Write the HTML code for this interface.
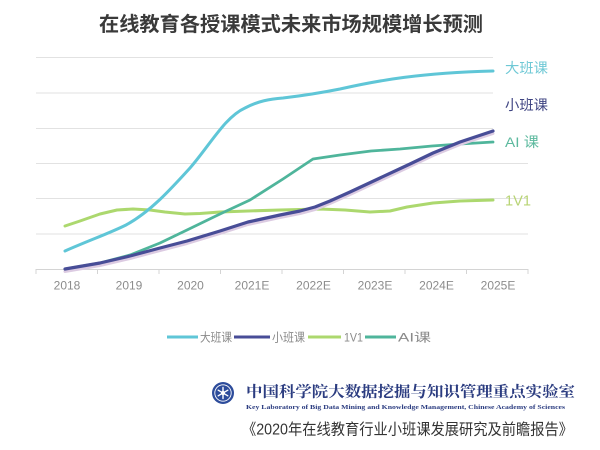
<!DOCTYPE html>
<html>
<head>
<meta charset="utf-8">
<style>
  html, body { margin:0; padding:0; background:#fff; }
  body { width:600px; height:450px; overflow:hidden; }
  svg { display:block; }
</style>
</head>
<body>
<svg width="600" height="450" viewBox="0 0 600 450" xmlns="http://www.w3.org/2000/svg">
  <rect width="600" height="450" fill="#ffffff"/>

  <!-- Title -->
  <text x="291" y="31" text-anchor="middle" font-size="20" font-weight="bold" fill="#3a3a3a" textLength="384" lengthAdjust="spacingAndGlyphs" style="font-family:'Liberation Sans','Noto Sans CJK SC',sans-serif">在线教育各授课模式未来市场规模增长预测</text>

  <!-- Grid lines -->
  <g stroke="#e2e2e2" stroke-width="1">
    <line x1="36" y1="57.5" x2="493" y2="57.5"/>
    <line x1="36" y1="93" x2="493" y2="93"/>
    <line x1="36" y1="128.5" x2="493" y2="128.5"/>
    <line x1="36" y1="163.5" x2="528" y2="163.5"/>
    <line x1="36" y1="198.5" x2="528" y2="198.5"/>
    <line x1="36" y1="234" x2="528" y2="234"/>
  </g>
  <!-- Axis -->
  <line x1="36" y1="269.5" x2="528" y2="269.5" stroke="#d4d4d4" stroke-width="1"/>
  <g stroke="#d4d4d4" stroke-width="1">
    <line x1="36" y1="269" x2="36" y2="274"/>
    <line x1="97.5" y1="269" x2="97.5" y2="274"/>
    <line x1="159" y1="269" x2="159" y2="274"/>
    <line x1="220.5" y1="269" x2="220.5" y2="274"/>
    <line x1="282" y1="269" x2="282" y2="274"/>
    <line x1="343.5" y1="269" x2="343.5" y2="274"/>
    <line x1="405" y1="269" x2="405" y2="274"/>
    <line x1="466.5" y1="269" x2="466.5" y2="274"/>
    <line x1="528" y1="269" x2="528" y2="274"/>
  </g>

  <!-- X labels -->
  <g font-family="Liberation Sans, sans-serif" font-size="12" fill="#8c8c8c" text-anchor="middle">
    <text x="67" y="289.5">2018</text>
    <text x="129" y="289.5">2019</text>
    <text x="190.5" y="289.5">2020</text>
    <text x="252" y="289.5">2021E</text>
    <text x="313.5" y="289.5">2022E</text>
    <text x="375" y="289.5">2023E</text>
    <text x="436.5" y="289.5">2024E</text>
    <text x="498" y="289.5">2025E</text>
  </g>

  <!-- Series -->
  <g fill="none" stroke-linejoin="round" stroke-linecap="round">
    <!-- 1V1 -->
    <polyline stroke="#acd86e" stroke-width="3" points="65,226 80,221 100,214 117,210 133,209 150,210 165,212 185,214 200,213.5 220,212 248,211 280,210 320,209 345,210 370,212 390,211 407,207 433,203 460,201 493,200"/>
    <!-- 大班课 -->
    <path stroke="#5fc6d7" stroke-width="3" d="M65,251 C90,240 110,233 126,225 C150,212 170,190 190,168 C210,145 225,117 245,108 C258,101 270,99 283,98 C300,96 320,93 340,89 C380,80 420,73 493,71"/>
    <!-- AI课 -->
    <polyline stroke="#4fb59b" stroke-width="2.8" points="65,269 100,263 130,255 160,243 187,230 220,214 250,200 283,179 313,159 340,155 371,151 400,149 432,146 460,144 493,142"/>
    <!-- 小班课 shadow -->
    <polyline stroke="#dccbe2" stroke-width="3" points="65,271.5 100,265.5 130,258.5 160,250.5 187,243.5 220,233.5 248,224.5 280,217.5 300,213.5 315,209.5 330,203.5 350,194.5 380,180.5 410,166.5 433,155.5 460,144.5 493,133.5"/>
    <!-- 小班课 -->
    <polyline stroke="#484d97" stroke-width="3.2" points="65,269 100,263 130,256 160,248 187,241 220,231 248,222 280,215 300,211 315,207 330,201 350,192 380,178 410,164 433,153 460,142 493,131"/>
  </g>

  <!-- Right labels -->
  <g style="font-family:'Liberation Sans','Noto Sans CJK SC',sans-serif" font-size="14">
    <text x="505" y="73" fill="#6ec8d5" textLength="43" lengthAdjust="spacingAndGlyphs">大班课</text>
    <text x="505" y="110" fill="#3f4482" textLength="43" lengthAdjust="spacingAndGlyphs">小班课</text>
    <text x="505" y="147" fill="#5cb99e" textLength="34" lengthAdjust="spacingAndGlyphs">AI 课</text>
    <text x="505" y="205.5" fill="#b8d475" font-size="15" textLength="26" lengthAdjust="spacingAndGlyphs">1V1</text>
  </g>

  <!-- Legend -->
  <g stroke-width="3" stroke-linecap="butt">
    <line x1="167" y1="337" x2="198" y2="337" stroke="#5fc6d7"/>
    <line x1="234" y1="337" x2="270" y2="337" stroke="#484d97"/>
    <line x1="308" y1="337" x2="341" y2="337" stroke="#acd86e"/>
    <line x1="365" y1="337" x2="396" y2="337" stroke="#4fb59b"/>
  </g>
  <g style="font-family:'Liberation Sans','Noto Sans CJK SC',sans-serif" font-size="12" fill="#8a8a8a">
    <text x="200" y="341.5" textLength="32" lengthAdjust="spacingAndGlyphs">大班课</text>
    <text x="272" y="341.5" textLength="33" lengthAdjust="spacingAndGlyphs">小班课</text>
    <text x="344" y="341.5" textLength="19" lengthAdjust="spacingAndGlyphs">1V1</text>
    <text x="398" y="341.5" textLength="33" lengthAdjust="spacingAndGlyphs">AI课</text>
  </g>

  <!-- Logo -->
  <g>
    <circle cx="223" cy="393" r="11" fill="#2d4c9b"/>
    <circle cx="223" cy="393" r="8.2" fill="none" stroke="#ffffff" stroke-width="0.9"/>
    <circle cx="223" cy="393" r="7.2" fill="#2d4c9b"/>
    <g stroke="#ffffff" stroke-width="1.4" stroke-linecap="round">
      <line x1="223" y1="387.5" x2="223" y2="398.5"/>
      <line x1="218.2" y1="390.2" x2="227.8" y2="395.8"/>
      <line x1="218.2" y1="395.8" x2="227.8" y2="390.2"/>
    </g>
    <circle cx="223" cy="393" r="2" fill="#ffffff"/>
  </g>

  <!-- Lab name -->
  <text x="246" y="396.5" font-size="15" font-weight="bold" fill="#2b3c80" textLength="329" lengthAdjust="spacingAndGlyphs" style="font-family:'Liberation Serif','Noto Serif CJK SC',serif">中国科学院大数据挖掘与知识管理重点实验室</text>
  <text x="246" y="409" font-size="6.5" font-weight="bold" fill="#2b3c80" textLength="319" lengthAdjust="spacingAndGlyphs" style="font-family:'Liberation Serif',serif">Key Laboratory of Big Data Mining and Knowledge Management, Chinese Academy of Sciences</text>

  <!-- Report title -->
  <text x="242" y="434.5" font-size="15.5" fill="#333333" textLength="331" lengthAdjust="spacingAndGlyphs" style="font-family:'Liberation Sans','Noto Sans CJK SC',sans-serif">《2020年在线教育行业小班课发展研究及前瞻报告》</text>
</svg>
</body>
</html>
